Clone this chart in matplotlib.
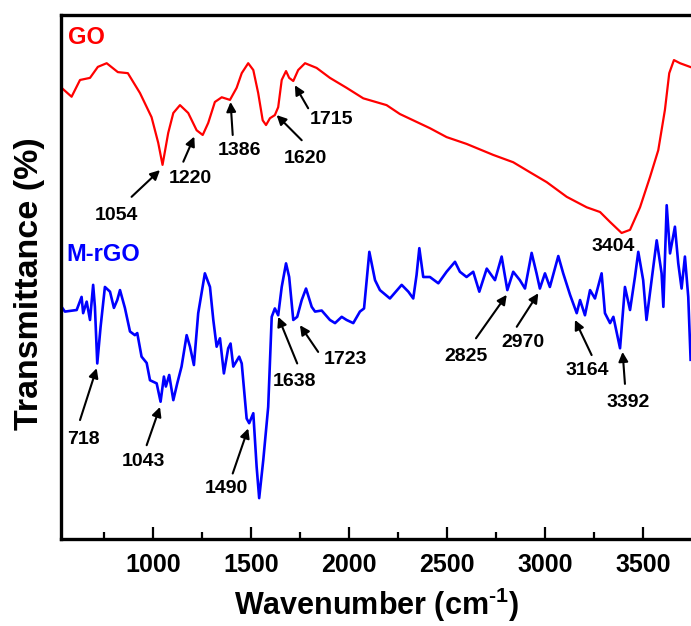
import matplotlib
matplotlib.use("Agg")
import matplotlib.pyplot as plt
from matplotlib.ticker import MultipleLocator

# FTIR spectra (wavenumber in cm-1, transmittance in a.u. %)
go_wn = [534, 585, 628, 679, 719, 764, 821, 872, 934, 993, 1027, 1049, 1078, 1104,
         1138, 1180, 1223, 1254, 1282, 1316, 1351, 1393, 1427, 1453, 1486, 1512,
         1537, 1560, 1577, 1597, 1622, 1639, 1657, 1679, 1695, 1716, 1741, 1776,
         1835, 1903, 1988, 2073, 2192, 2260, 2413, 2498, 2600, 2736, 2838, 2923,
         3009, 3111, 3213, 3281, 3332, 3391, 3434, 3485, 3536, 3578, 3612, 3634,
         3658, 3689, 3740, 3765]
go_t = [86.1, 84.4, 87.6, 88.0, 90.1, 90.8, 89.1, 88.9, 85.1, 80.5, 75.6, 71.4, 77.5, 81.3,
        82.8, 81.3, 78.0, 77.1, 79.4, 83.4, 84.3, 83.8, 86.1, 88.9, 90.8, 89.5,
        85.1, 79.9, 79.0, 80.3, 80.9, 82.4, 87.6, 89.3, 88.0, 87.4, 89.5, 90.8,
        89.9, 88.0, 86.1, 84.1, 82.8, 81.1, 78.4, 76.7, 75.4, 73.3, 71.9, 70.0,
        68.1, 65.3, 63.3, 62.4, 60.5, 58.4, 59.0, 63.3, 69.1, 74.2, 81.9, 88.9,
        91.4, 90.8, 90.1, 89.8]

mrgo_wn = [534, 551, 611, 636, 644, 662, 679, 695, 704, 716, 733, 755, 781, 801, 818,
           832, 857, 883, 908, 920, 942, 968, 985, 1019, 1039, 1056, 1066, 1083, 1104,
           1124, 1146, 1172, 1189, 1209, 1231, 1265, 1291, 1308, 1325, 1342, 1362,
           1384, 1396, 1410, 1440, 1453, 1478, 1491, 1512, 1529, 1542, 1563, 1588,
           1606, 1622, 1639, 1657, 1679, 1695, 1716, 1736, 1759, 1781, 1810, 1827,
           1861, 1903, 1929, 1963, 1988, 2022, 2056, 2077, 2104, 2133, 2158, 2209,
           2269, 2303, 2328, 2345, 2359, 2379, 2413, 2456, 2498, 2541, 2566, 2600,
           2634, 2665, 2703, 2745, 2779, 2808, 2838, 2872, 2898, 2932, 2957, 2974,
           3000, 3025, 3068, 3093, 3128, 3162, 3179, 3204, 3230, 3255, 3289, 3306,
           3332, 3349, 3383, 3408, 3434, 3459, 3476, 3501, 3518, 3544, 3570, 3595,
           3604, 3621, 3638, 3663, 3680, 3697, 3714, 3731, 3743]
mrgo_t = [44.3, 43.4, 43.7, 46.2, 43.1, 45.3, 41.8, 48.5, 44.3, 33.5, 40.5, 48.1, 47.2, 44.1, 45.6,
          47.5, 44.1, 39.6, 38.9, 39.3, 34.8, 33.6, 30.3, 29.7, 26.2, 31.0, 29.1, 31.3, 26.5,
          29.7, 32.9, 38.9, 36.7, 33.2, 43.1, 50.7, 48.1, 41.8, 36.7, 38.3, 31.6,
          36.4, 37.3, 32.9, 34.8, 33.5, 23.0, 22.1, 24.0, 13.8, 7.8, 15.1, 25.2,
          42.4, 44.0, 42.7, 48.1, 52.6, 50.0, 41.8, 42.4, 45.6, 47.8, 44.3, 43.4,
          43.6, 41.8, 41.2, 42.4, 41.8, 41.2, 43.4, 44.0, 54.8, 49.4, 47.5, 45.9,
          48.5, 47.2, 45.9, 50.4, 55.5, 50.0, 50.0, 48.8, 51.0, 52.9, 51.0, 50.0,
          51.0, 47.2, 51.6, 49.4, 53.9, 47.5, 51.0, 49.4, 47.8, 54.6, 50.7, 47.8,
          50.7, 48.1, 54.0, 50.7, 46.6, 43.1, 45.6, 42.7, 47.5, 45.9, 50.7, 43.1,
          41.2, 42.4, 36.4, 48.1, 43.7, 50.0, 54.8, 49.4, 41.8, 49.4, 57.0, 50.7,
          44.3, 63.7, 54.5, 59.6, 52.6, 47.8, 53.9, 46.2, 34.2]

# peak labels
go_peaks = ["1054", "1220", "1386", "1620", "1715"]
mrgo_peaks = ["718", "1043", "1490", "1638", "1723", "2825", "2970", "3164", "3392"]

# label placement: (text x, text y), arrow tail, arrow head in data coords
go_layout = [((815, 61.8), (891, 65.3), (1036, 70.4)),
             ((1189, 68.8), (1155, 72.0), (1211, 76.8)),
             ((1444, 74.2), (1407, 77.1), (1396, 83.4)),
             ((1776, 72.6), (1759, 76.1), (1631, 80.9)),
             ((1912, 80.0), (1792, 82.2), (1724, 86.6))]
mrgo_layout = [((644, 18.9), (628, 22.7), (713, 32.6)),
               ((954, 14.7), (968, 17.9), (1036, 25.2)),
               ((1376, 9.7), (1407, 12.5), (1486, 21.1)),
               ((1721, 30.0), (1736, 33.5), (1639, 42.4)),
               ((1980, 34.2), (1843, 35.7), (1750, 40.8)),
               ((2597, 34.8), (2648, 38.3), (2805, 46.6)),
               ((2889, 37.5), (2856, 40.5), (2966, 46.9)),
               ((3216, 32.1), (3238, 35.1), (3153, 41.8)),
               ((3425, 26.0), (3408, 29.6), (3396, 35.7))]

plt.rcParams["font.family"] = ["Liberation Sans", "DejaVu Sans"]
plt.rcParams["font.weight"] = "bold"
plt.rcParams["mathtext.fontset"] = "custom"
plt.rcParams["mathtext.rm"] = "Liberation Sans:bold"
plt.rcParams["mathtext.bf"] = "Liberation Sans:bold"
plt.rcParams["mathtext.default"] = "bf"

fig = plt.figure(figsize=(6.91, 6.26), dpi=100)
ax = fig.add_axes([61 / 691, 87 / 626, 630 / 691, 524 / 626])

ax.plot(go_wn, go_t, color="#ff0000", lw=1.6)
ax.plot(mrgo_wn, mrgo_t, color="#0000ff", lw=1.9)

ax.text(566, 95.8, "GO", color="#ff0000", fontsize=17, fontweight="bold", va="center", ha="left")
ax.text(556, 54.2, "M-rGO", color="#0000ff", fontsize=17, fontweight="bold", va="center", ha="left")
ax.text(3349, 55.8, "3404", fontsize=14, fontweight="bold", ha="center", va="center")

arrow = dict(arrowstyle="-|>", color="black", lw=1.5, mutation_scale=14, shrinkA=0, shrinkB=0)
for lab, (txt, tail, head) in zip(go_peaks + mrgo_peaks, go_layout + mrgo_layout):
    ax.text(txt[0], txt[1], lab, fontsize=14, fontweight="bold", ha="center", va="center")
    ax.annotate("", xy=head, xytext=tail, arrowprops=arrow)

ax.set_xlim(531, 3745)
ax.set_ylim(0, 100)
ax.xaxis.set_major_locator(MultipleLocator(500))
ax.xaxis.set_minor_locator(MultipleLocator(250))
ax.tick_params(axis="x", which="major", direction="in", length=9, width=1.6,
               labelsize=18, pad=10, top=False)
ax.tick_params(axis="x", which="minor", direction="in", length=5, width=1.6, top=False)
ax.set_yticks([])
for lbl in ax.get_xticklabels():
    lbl.set_fontweight("bold")
for side in ["left", "top", "bottom"]:
    ax.spines[side].set_linewidth(2.4)
ax.spines["right"].set_visible(False)

ax.set_xlabel("Wavenumber (cm$^{\u2010 1}$)", fontsize=22, fontweight="bold", labelpad=6)
ax.set_ylabel("Transmittance (%)", fontsize=24.5, fontweight="bold")
ax.yaxis.set_label_coords(-0.026, 0.487)

fig.savefig("out.png", dpi=100)
